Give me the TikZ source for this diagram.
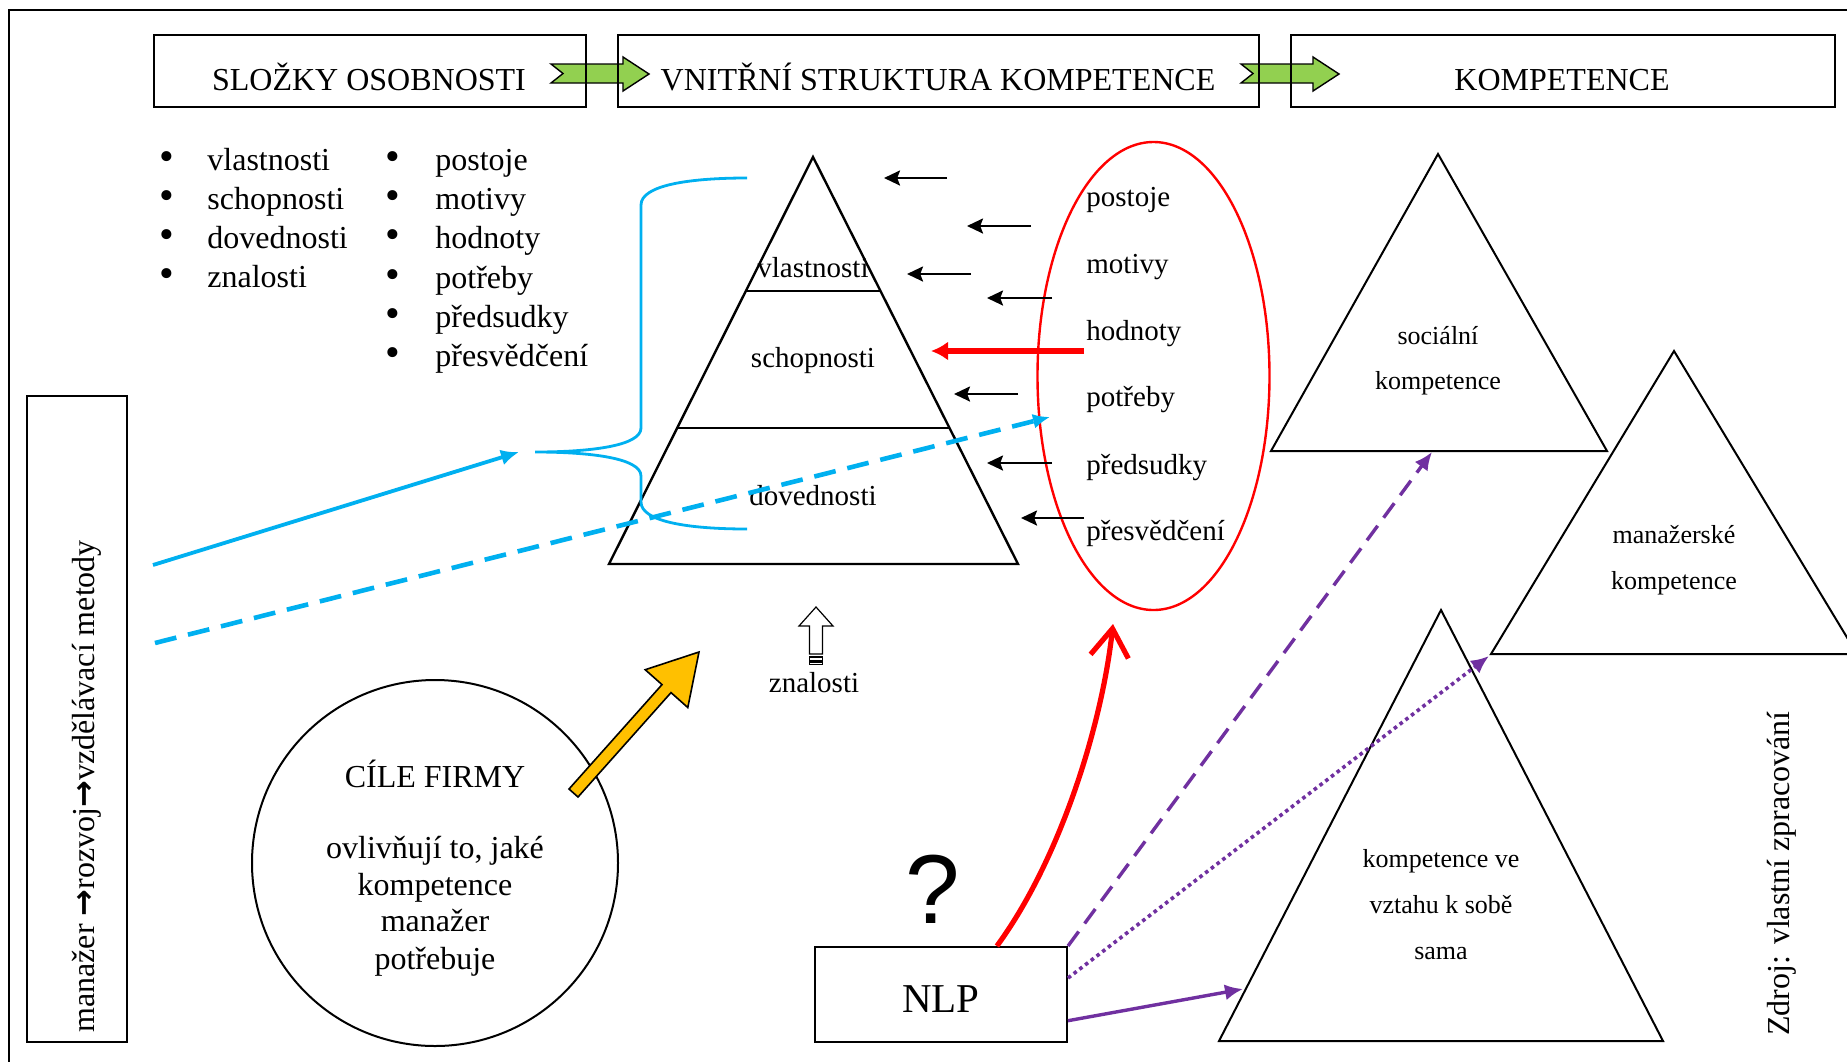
\documentclass[tikz,border=0pt]{standalone}
\usepackage{fontspec}
\setmainfont{Liberation Serif}
\newfontfamily\qfont{Liberation Sans}
\newfontfamily\arrfont{DejaVu Sans}
\usetikzlibrary{arrows.meta,calc,shapes.geometric}
\definecolor{cyanb}{HTML}{00B0F0}
\definecolor{purp}{HTML}{7030A0}
\definecolor{grn}{HTML}{92D050}
\definecolor{ylw}{HTML}{FFC000}
\begin{document}
\begin{tikzpicture}[x=0.5pt,y=-0.5pt,
  lab/.style={inner sep=0pt,font=\fontsize{16}{19}\selectfont},
  labm/.style={inner sep=0pt,font=\fontsize{16}{19}\selectfont,yshift=-2.5pt},
  plab/.style={inner sep=0pt,font=\fontsize{14.5}{17}\selectfont,yshift=-2.2pt},
  tlab/.style={inner sep=0pt,font=\fontsize{13}{16}\selectfont,yshift=-2pt},
  bul/.style={inner sep=0pt,font=\fontsize{21}{21}\selectfont,yshift=-2.5pt},
  boxn/.style={draw,line width=1pt,inner sep=0pt,anchor=north west},
  tri/.style={draw,line width=1pt,line join=miter},
  blk/.style={line width=1.2pt,-{Stealth[length=8pt,width=7.5pt,inset=1.4pt]}},
  gar/.style={fill=grn,draw=black,line width=0.7pt,line join=miter},
]
\useasboundingbox (0,0) rectangle (1847,1061);
\begin{scope}
\clip (0,0) rectangle (1847,1061);
\fill[white] (0,0) rectangle (1847,1061);
% outer frame (open to right and bottom)
\coordinate (fr1) at (9,1100); \coordinate (fr2) at (9,10); \coordinate (fr3) at (1900,10);
\draw[line width=1.1pt] (fr1) -- (fr2) -- (fr3);

% green block arrows
\draw[gar] (551,64) -- (623,64) -- (623,57) -- (649,74) -- (623,91) -- (623,83) -- (551,83) -- (563,73.5) -- cycle;
\draw[gar] (1241,64) -- (1313,64) -- (1313,57) -- (1339,74) -- (1313,91) -- (1313,83) -- (1241,83) -- (1253,73.5) -- cycle;

% top boxes
\node[boxn,minimum width=216pt,minimum height=36pt] (b1) at (153,34) {};
\node[boxn,minimum width=320.5pt,minimum height=36pt] (b2) at (617,34) {};
\node[boxn,minimum width=272pt,minimum height=36pt] (b3) at (1290,34) {};
\node[lab,anchor=base] (t1) at (369,90) {SLOŽKY OSOBNOSTI};
\node[lab,anchor=base] (t2) at (938,90) {VNITŘNÍ STRUKTURA KOMPETENCE};
\node[lab,anchor=base] (t3) at (1562,90) {KOMPETENCE};

% bullet lists
\foreach \t [count=\i] in {vlastnosti,schopnosti,dovednosti,znalosti} {
  \node[bul,anchor=mid] (lbul\i) at (167,122+39*\i) {•};
  \node[labm,anchor=mid west] (ltx\i) at (207,122+39*\i) {\t};
}
\foreach \t [count=\i] in {postoje,motivy,hodnoty,potřeby,předsudky,přesvědčení} {
  \node[bul,anchor=mid] (rbul\i) at (393,121.8+39.2*\i) {•};
  \node[labm,anchor=mid west] (rtx\i) at (435,121.8+39.2*\i) {\t};
}

% left vertical box
\node[boxn,minimum width=50pt,minimum height=323pt] (lbox) at (26,395) {};
\node[lab,rotate=90,anchor=base west] (ltext) at (94,1033) {manažer {\arrfont\bfseries →}rozvoj{\arrfont\bfseries →}vzdělávací metody};

% pyramid
\coordinate (pA) at (813,157); \coordinate (pL) at (609,564); \coordinate (pR) at (1018,564);
\draw[tri,line width=1.2pt] (pA) -- (pL) -- (pR) -- cycle;
\draw[line width=1.2pt] ($(pA)!0.329!(pL)$) -- ($(pA)!0.329!(pR)$);
\draw[line width=1.2pt] ($(pA)!0.666!(pL)$) -- ($(pA)!0.666!(pR)$);
\node[plab,anchor=mid] (pv) at (813,269) {vlastnosti};
\node[plab,anchor=mid] (ps) at (813,359) {schopnosti};
\node[plab,anchor=mid] (pd) at (813,496) {dovednosti};

% red ellipse with labels
\node[draw=red,line width=1.2pt,ellipse,minimum width=116pt,minimum height=234pt,inner sep=0pt] (ell) at (1153.5,376) {};
\foreach \t/\yy [count=\i] in {postoje/198,motivy/265,hodnoty/332,potřeby/398,předsudky/465,přesvědčení/531} {
  \node[plab,anchor=mid west] (e\i) at (1086,\yy) {\t};
}

% black arrows towards pyramid
\foreach \xs/\xe/\yy [count=\i] in {947/884/178,1031/967/226,971/907/274,1052/987/298,1018/954/394,1052/987/463,1084/1021/518} {
  \coordinate (as\i) at (\xs,\yy); \coordinate (ae\i) at (\xe,\yy);
  \draw[blk] (as\i) -- (ae\i);
}
\coordinate (rs) at (1084,351); \coordinate (re) at (931,351);
\draw[red,line width=2.8pt,-{Latex[length=8.5pt,width=9.5pt]}] (rs) -- (re);

% blue brace
\coordinate (brT) at (535,452);
\draw[cyanb,line width=1.4pt] (747,178) .. controls (690,178) and (641,185) .. (641,205) -- (641,428)
  .. controls (641,446) and (590,452) .. (brT) .. controls (590,452) and (641,458) .. (641,476)
  -- (641,502) .. controls (641,522) and (690,529) .. (747,529);

% blue arrows
\coordinate (bs) at (153,565); \coordinate (bsT) at (519,452);
\draw[cyanb,line width=1.9pt,-{Latex[length=9pt,width=8pt]}] (bs) -- (bsT);
\coordinate (bd) at (155,643); \coordinate (bdT) at (1050,417);
\draw[cyanb,line width=2.3pt,dash pattern=on 11pt off 6pt,-{Latex[length=8.5pt,width=7.5pt]}] (bd) -- (bdT);

% small outline arrow + znalosti
\draw[line width=0.6pt,fill=white,line join=miter] (816,607) -- (833,626) -- (822.5,626) -- (822.5,654) -- (809.5,654) -- (809.5,626) -- (799,626) -- cycle;
\draw[line width=0.6pt] (809.5,657) rectangle (822.5,660.5);
\draw[line width=0.6pt] (809.5,662) rectangle (822.5,664.5);
\node[plab,anchor=mid] (zn) at (814,683) {znalosti};

% circle goals
\node[draw,circle,line width=1pt,minimum size=183pt,inner sep=0pt] (goal) at (435,863) {};
\node[lab,anchor=base] (g1) at (435,787) {CÍLE FIRMY};
\node[labm,anchor=mid] (g2) at (435,849) {ovlivňují to, jaké};
\node[labm,anchor=mid] (g3) at (435,886) {kompetence};
\node[labm,anchor=mid] (g4) at (435,922) {manažer};
\node[labm,anchor=mid] (g5) at (435,960) {potřebuje};

% yellow block arrow
\draw[fill=ylw,draw=black,line width=0.8pt,line join=miter] (569,789) -- (662,684.6) -- (645.2,669.7) -- (699,652) -- (687.8,707.5) -- (671,692.6) -- (578,797) -- cycle;

% competence triangles
\coordinate (sA) at (1438,154); \coordinate (sL) at (1271,451); \coordinate (sR) at (1607,451);
\coordinate (mA) at (1674,351); \coordinate (mL) at (1491,654); \coordinate (mR) at (1857,654);
\coordinate (kA) at (1441,610); \coordinate (kL) at (1219,1041); \coordinate (kR) at (1663,1041);
\draw[tri] (sA) -- (sL) -- (sR) -- cycle;
\draw[tri] (mA) -- (mL) -- (mR) -- cycle;
\draw[tri] (kA) -- (kL) -- (kR) -- cycle;
\node[tlab,anchor=mid] (s1) at (1438,336) {sociální};
\node[tlab,anchor=mid] (s2) at (1438,381) {kompetence};
\node[tlab,anchor=mid] (m1) at (1674,535) {manažerské};
\node[tlab,anchor=mid] (m2) at (1674,581) {kompetence};
\node[tlab,anchor=mid] (k1) at (1441,859) {kompetence ve};
\node[tlab,anchor=mid] (k2) at (1441,905) {vztahu k sobě};
\node[tlab,anchor=mid] (k3) at (1441,951) {sama};

% NLP box and question mark
\node[boxn,minimum width=126pt,minimum height=47.5pt] (nlp) at (814,946) {};
\node[inner sep=0pt,anchor=base,font=\fontsize{20.5}{24}\selectfont] (nlpt) at (941,1012) {NLP};
\node[inner sep=0pt,anchor=base,font=\qfont\fontsize{49}{56}\selectfont] (qm) at (933,923) {?};

% red curved arrow from NLP to ellipse
\coordinate (rcT) at (1113,624);
\draw[red,line width=2.6pt,-{Straight Barb[length=14pt,width=19pt]}] ($(nlp.north west)!0.72!(nlp.north east)$) .. controls (1060,860) and (1102,725) .. (rcT);

% purple arrows from NLP
\coordinate (sT) at (1432,452); \coordinate (mT) at (1489,656); \coordinate (kT) at (1243,989);
\draw[purp,line width=1.7pt,dash pattern=on 9pt off 5pt,-{Latex[length=9pt,width=8pt]}] (nlp.north east) -- (sT);
\draw[purp,line width=1.8pt,dash pattern=on 1.8pt off 1.8pt,-{Latex[length=9pt,width=8pt]}] ($(nlp.north east)!0.33!(nlp.south east)$) -- (mT);
\draw[purp,line width=1.7pt,-{Latex[length=9pt,width=8pt]}] ($(nlp.north east)!0.77!(nlp.south east)$) -- (kT);

% source note
\node[lab,rotate=90,anchor=base west] (src) at (1789,1036) {Zdroj: vlastní zpracování};
\end{scope}
\end{tikzpicture}
\end{document}
